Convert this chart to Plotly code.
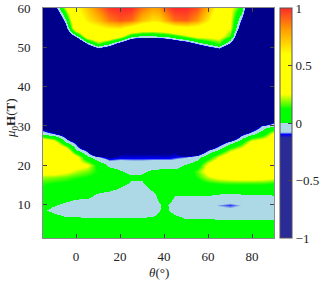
import plotly.graph_objects as go

# Field angle theta (deg) – grid columns
theta = [-15, -10, -5, 0, 5, 10, 15, 20, 25, 30, 35, 37.5, 40, 42.5, 45, 50,
         55, 60, 65, 70, 75, 80, 85, 90]
# Magnetic field mu0 H (T) – grid rows
field = [1.5, 4, 6.5, 8.5, 10, 12, 14, 15.5, 17, 18.5, 20, 22, 24, 26, 28, 30,
         32, 36, 44, 49, 51, 53, 55, 57, 60]

D = -0.5  # deep (dark blue) level
# values, one list per theta column (bottom -> top)
c_m15 = [0.1, 0.1, 0.05, 0.01, 0.03, 0.07, 0.1, 0.14, 0.2, 0.32, 0.5, 0.55, 0.52, 0.45, -0.03, -0.18, -0.45, D, D, D, D, D, D, D, D]
c_m10 = [0.1, 0.1, 0.03, -0.02, 0.005, 0.04, 0.08, 0.12, 0.19, 0.32, 0.5, 0.55, 0.5, 0.32, -0.08, -0.3, D, D, D, D, D, D, D, -0.47, -0.2]
c_m5 = [0.1, 0.09, 0.01, -0.04, -0.015, 0.03, 0.07, 0.11, 0.17, 0.28, 0.42, 0.48, 0.38, 0.01, -0.18, D, D, D, D, D, D, -0.37, -0.2, -0.04, 0.22]
c_0 = [0.1, 0.08, 0.01, -0.05, -0.04, 0.015, 0.05, 0.09, 0.14, 0.22, 0.3, 0.3, 0.005, -0.14, D, D, D, D, D, D, -0.45, -0.06, 0.42, 0.5, 0.58]
c_5 = [0.1, 0.08, 0.005, -0.06, -0.05, 0.01, 0.04, 0.07, 0.12, 0.18, 0.27, 0.03, -0.13, D, D, D, D, D, D, -0.45, -0.06, 0.36, 0.52, 0.64, 0.72]
c_10 = [0.1, 0.08, 0.005, -0.06, -0.05, -0.02, 0.02, 0.05, 0.09, 0.12, 0.08, -0.08, -0.45, D, D, D, D, D, D, -0.28, 0.18, 0.45, 0.57, 0.74, 0.86]
c_15 = [0.1, 0.08, 0.005, -0.06, -0.055, -0.03, 0.01, 0.035, 0.06, 0.04, -0.02, -0.13, D, D, D, D, D, D, D, -0.36, 0.04, 0.42, 0.62, 0.87, 0.98]
c_20 = [0.1, 0.08, 0.005, -0.06, -0.055, -0.04, -0.005, 0.015, 0.025, 0.005, -0.03, -0.11, -0.15, D, D, D, D, D, D, D, -0.16, 0.3, 0.64, 0.93, 1.0]
c_25 = [0.1, 0.08, 0.005, -0.06, -0.055, -0.045, -0.025, -0.005, 0.008, -0.015, -0.04, -0.11, -0.15, D, D, D, D, D, D, D, -0.36, 0.04, 0.52, 0.9, 1.0]
c_30 = [0.1, 0.08, 0.005, -0.055, -0.05, -0.04, -0.02, -0.005, 0.01, -0.01, -0.04, -0.11, -0.15, D, D, D, D, D, D, D, -0.42, -0.02, 0.42, 0.74, 0.88]
c_35 = [0.1, 0.08, 0.01, -0.04, -0.045, -0.03, 0.01, 0.03, 0.04, 0.01, -0.03, -0.11, -0.15, D, D, D, D, D, D, D, -0.42, -0.02, 0.4, 0.66, 0.8]
c_375 = [0.1, 0.08, 0.03, -0.005, -0.008, 0.02, 0.03, 0.05, 0.05, 0.015, -0.03, -0.11, -0.15, D, D, D, D, D, D, D, -0.4, 0.01, 0.42, 0.68, 0.82]
c_40 = [0.1, 0.08, 0.04, 0.02, 0.015, 0.03, 0.04, 0.05, 0.05, 0.015, -0.03, -0.11, -0.15, D, D, D, D, D, D, D, -0.38, 0.02, 0.44, 0.75, 0.9]
c_425 = [0.1, 0.08, 0.03, -0.005, -0.008, 0.02, 0.04, 0.05, 0.05, 0.015, -0.03, -0.11, -0.15, D, D, D, D, D, D, D, -0.34, 0.06, 0.48, 0.84, 0.97]
c_45 = [0.1, 0.08, 0.02, -0.03, -0.03, -0.005, 0.03, 0.05, 0.05, 0.015, -0.03, -0.1, -0.14, D, D, D, D, D, D, D, -0.28, 0.1, 0.52, 0.9, 1.0]
c_50 = [0.1, 0.07, -0.005, -0.05, -0.05, -0.01, 0.03, 0.06, 0.07, 0.04, 0.01, -0.09, -0.3, D, D, D, D, D, D, D, -0.2, 0.2, 0.56, 0.92, 1.0]
c_55 = [0.1, 0.07, -0.005, -0.05, -0.055, -0.01, 0.04, 0.08, 0.13, 0.16, 0.06, -0.04, -0.3, D, D, D, D, D, D, -0.45, -0.06, 0.3, 0.53, 0.82, 0.94]
c_60 = [0.1, 0.07, -0.005, -0.055, -0.06, -0.01, 0.05, 0.12, 0.22, 0.3, 0.28, 0.08, -0.1, -0.45, D, D, D, D, D, -0.34, 0.06, 0.3, 0.45, 0.64, 0.76]
c_65 = [0.1, 0.07, -0.01, -0.065, -0.085, -0.03, 0.05, 0.14, 0.28, 0.38, 0.4, 0.25, 0.02, -0.2, D, D, D, D, D, -0.24, 0.16, 0.3, 0.36, 0.43, 0.52]
c_70 = [0.1, 0.07, -0.01, -0.07, -0.095, -0.04, 0.05, 0.15, 0.3, 0.42, 0.45, 0.38, 0.2, -0.06, -0.45, D, D, D, D, D, -0.1, 0.15, 0.25, 0.27, 0.28]
c_75 = [0.1, 0.07, -0.01, -0.065, -0.08, -0.03, 0.05, 0.15, 0.32, 0.45, 0.5, 0.45, 0.3, 0.08, -0.14, D, D, D, D, D, D, -0.4, -0.21, -0.1, 0.1]
c_80 = [0.1, 0.07, -0.01, -0.06, -0.065, -0.03, 0.05, 0.15, 0.32, 0.47, 0.52, 0.5, 0.45, 0.3, -0.02, -0.25, D, D, D, D, D, D, D, D, D]
c_85 = [0.1, 0.07, -0.01, -0.055, -0.06, -0.03, 0.05, 0.15, 0.3, 0.45, 0.5, 0.5, 0.45, 0.35, 0.08, -0.06, D, D, D, D, D, D, D, D, D]
c_90 = [0.1, 0.07, -0.01, -0.05, -0.055, -0.01, 0.04, 0.13, 0.27, 0.42, 0.48, 0.5, 0.45, 0.38, 0.3, -0.01, -0.2, D, D, D, D, D, D, D, D]

columns = [c_m15, c_m10, c_m5, c_0, c_5, c_10, c_15, c_20, c_25, c_30, c_35,
           c_375, c_40, c_425, c_45, c_50, c_55, c_60, c_65, c_70, c_75, c_80,
           c_85, c_90]
z = [[col[i] for col in columns] for i in range(len(field))]

cbar_vals = [-1, -0.5, 0, 0.5, 1]
cbar_text = ["\u22121", "\u22120.5", "0", "0.5", "1"]
x_ticks = [0, 20, 40, 60, 80]
y_ticks = [10, 20, 30, 40, 50, 60]


def make_scale(deep):
    return [
        [0.0, deep], [0.435, deep], [0.45, "#0000ff"], [0.46, "#add8e6"],
        [0.5, "#add8e6"], [0.5, "#00ff00"], [0.56, "#00ff00"],
        [0.625, "#ffff00"], [0.8, "#ffff00"], [0.91, "#ff9900"],
        [1.0, "#ff2a2a"],
    ]


FONT = "Liberation Serif, Times New Roman, serif"

fig = go.Figure()
fig.add_trace(go.Heatmap(
    x=theta, y=field, z=z, zmin=-1, zmax=1, zsmooth="best",
    colorscale=make_scale("#00008b"), hoverinfo="skip", showscale=False,
))
# colour bar (drawn with the slightly lighter deep blue of the reference bar)
fig.add_trace(go.Scatter(
    x=[None], y=[None], mode="markers", hoverinfo="skip", showlegend=False,
    marker=dict(
        color=[-1, 1], cmin=-1, cmax=1, colorscale=make_scale("#2b2b98"),
        showscale=True,
        colorbar=dict(
            x=(280 - 43) / 231, xanchor="left", xpad=0, ypad=0,
            y=0.5, yanchor="middle", len=1, lenmode="fraction", thickness=12,
            outlinewidth=1, outlinecolor="#555555",
            tickvals=cbar_vals, ticktext=cbar_text, ticks="inside",
            ticklen=4, tickcolor="#444444",
            tickfont=dict(family=FONT, size=13, color="#222"),
        ),
    ),
))

axis_common = dict(
    showline=True, linecolor="#8a8a8a", linewidth=1, mirror="ticks",
    ticks="inside", ticklen=4, tickcolor="#444444", showgrid=False,
    zeroline=False, tickfont=dict(family=FONT, size=13, color="#222"),
)
fig.update_xaxes(range=[-15, 90], tickvals=x_ticks, ticklabelstandoff=6,
                 **axis_common)
fig.update_yaxes(range=[1.5, 60], tickvals=y_ticks, ticklabelstandoff=9,
                 **axis_common)

fig.update_layout(
    width=332, height=290,
    margin=dict(l=43, r=58, t=8, b=52, autoexpand=False),
    paper_bgcolor="white", plot_bgcolor="white", showlegend=False,
    annotations=[
        dict(text="<i>θ</i>(°)", x=(159 - 43) / 231, y=(238 - 272) / 230,
             xref="paper", yref="paper", showarrow=False,
             font=dict(family=FONT, size=13, color="#222"),
             xanchor="center", yanchor="middle"),
        dict(text="<i>μ</i><sub>0</sub><b>H</b>(<b>T</b>)",
             x=(11 - 43) / 231, y=(238 - 118) / 230,
             xref="paper", yref="paper", showarrow=False, textangle=-90,
             font=dict(family=FONT, size=13, color="#222"),
             xanchor="center", yanchor="middle"),
    ],
)

fig.write_html(
    "out.html",
    config={"displayModeBar": False},
    post_script="document.body.style.margin='0';document.body.style.overflow='hidden';",
)
